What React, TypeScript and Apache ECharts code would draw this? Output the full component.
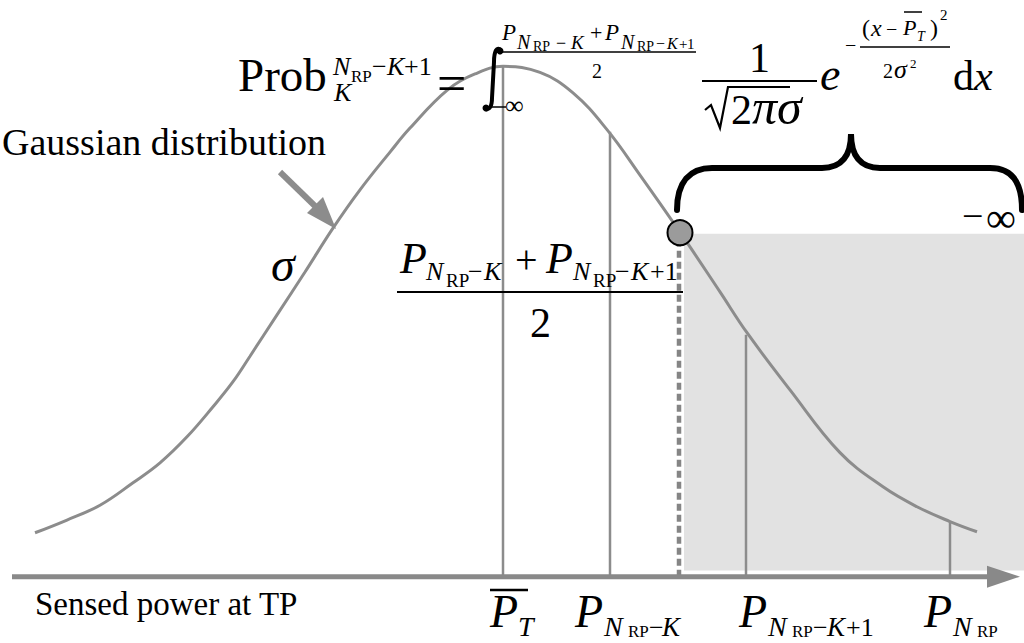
import React, { useEffect, useRef } from 'react';
import * as echarts from 'echarts';

// Gaussian curve: sensed power (P_T = 0), density (peak = 1)
const powerX = [-4.68, -4.36, -4.03, -3.70, -3.43, -3.16, -2.90, -2.70, -2.53, -2.26, -1.98, -1.70, -1.43, -1.13, -0.93, -0.56, -0.28, 0, 0.37, 0.70, 1.04, 1.37, 1.77, 2.17, 2.44, 2.87, 3.37, 3.80, 4.14, 4.47, 4.74];
const density = [0.086, 0.111, 0.140, 0.184, 0.223, 0.274, 0.333, 0.382, 0.432, 0.513, 0.597, 0.683, 0.758, 0.832, 0.879, 0.953, 0.985, 1.0, 0.988, 0.948, 0.876, 0.787, 0.675, 0.558, 0.478, 0.366, 0.243, 0.176, 0.137, 0.108, 0.088];

// Vertical markers: P_T, P_{N_RP-K}, P_{N_RP-K+1}, P_{N_RP}
const markerX = [0, 1.07, 2.43, 4.47];
const markerTop = [1.0, 0.872, 0.474, 0.108];

// Threshold (P_{N_RP-K}+P_{N_RP-K+1})/2
const thresholdX = [1.76];
const thresholdTop = [0.65];
const thresholdPoint = [1.77, 0.674];

// Shaded tail region
const shadeX = [1.81, 5.21];
const shadeY = [0.012, 0.672];

// Sensed-power axis (arrow end)
const axisX = [-4.91, 5.005];

const xRange = [-4.91, 5.21];
const yRange = [-0.13, 1.13];

const GRAY = '#8c8c8c';

echarts.graphic.registerShape(
  'integralSign',
  echarts.graphic.extendPath('M 501 50 C 497 46 494 51 494 62 L 492 98 C 492 107 489 110 486 109', {})
);
echarts.graphic.registerShape(
  'curlyBrace',
  echarts.graphic.extendPath(
    'M 677 210 C 677 182 690 168 712 168 L 822 168 C 842 168 851 155 851 134 C 851 155 860 168 880 168 L 990 168 C 1012 168 1022 182 1022 210',
    {}
  )
);

// text placed by its baseline (bl)
function t(text: string, x: number, bl: number, size: number, italic = false) {
  return {
    type: 'text',
    x,
    y: bl - 0.84 * size,
    z: 100,
    style: {
      text,
      font: `${italic ? 'italic ' : ''}${size}px 'Liberation Serif'`,
      fill: '#000',
    },
  };
}

function ln(x1: number, y1: number, x2: number, y2: number, w: number, color = '#000') {
  return { type: 'line', z: 100, shape: { x1, y1, x2, y2 }, style: { stroke: color, lineWidth: w } };
}

function buildGraphics() {
  const g: any[] = [];
  // Labels
  g.push(t('Gaussian distribution', 2, 155, 38));
  g.push(t('Sensed power at TP', 35, 615, 33));
  g.push(t('σ', 271, 281, 48, true));
  // arrow to curve
  g.push(ln(280, 172, 316, 207, 6, GRAY));
  g.push({ type: 'polygon', z: 100, shape: { points: [[336, 229], [307, 213], [323, 197]] }, style: { fill: GRAY } });

  // Prob_K^{N_RP - K + 1} =
  g.push(t('Prob', 238, 91, 47));
  g.push(t('N', 333, 75, 26, true));
  g.push(t('RP', 351, 82, 17));
  g.push(t('−', 372, 75, 26));
  g.push(t('K', 387, 75, 26, true));
  g.push(t('+1', 404, 75, 26));
  g.push(t('K', 334, 101, 26, true));
  g.push(t('=', 437, 101, 52));

  // Integral sign
  g.push({ type: 'integralSign', z: 100, style: { stroke: '#000', lineWidth: 4, fill: 'none' } });
  g.push({ type: 'circle', z: 100, shape: { cx: 500, cy: 51, r: 3.5 }, style: { fill: '#000' } });
  g.push({ type: 'circle', z: 100, shape: { cx: 486, cy: 108, r: 3.5 }, style: { fill: '#000' } });
  g.push(ln(486, 107, 506, 107, 1.5));
  g.push(t('∞', 505, 114, 26));

  // Upper limit fraction
  g.push(t('P', 502, 40, 23, true));
  g.push(t('N', 517, 49, 20, true));
  g.push(t('RP', 533, 51, 14));
  g.push(t('−', 556, 49, 18));
  g.push(t('K', 571, 49, 19, true));
  g.push(t('+', 590, 40, 22));
  g.push(t('P', 605, 40, 23, true));
  g.push(t('N', 621, 49, 20, true));
  g.push(t('RP', 637, 51, 14));
  g.push(t('−', 656, 49, 16));
  g.push(t('K', 667, 49, 16, true));
  g.push(t('+', 679, 49, 15));
  g.push(t('1', 687, 49, 15));
  g.push(ln(497, 52, 696, 52, 1.5));
  g.push(t('2', 592, 78, 20));

  // 1 / sqrt(2π) σ
  g.push(t('1', 749, 72, 42));
  g.push(ln(702, 81, 817, 81, 2));
  g.push({
    type: 'polyline', z: 100,
    shape: { points: [[705, 110], [711, 105], [720, 128], [728, 87], [790, 87]] },
    style: { stroke: '#000', lineWidth: 2.2, fill: null },
  });
  g.push(t('2', 731, 124, 42));
  g.push(t('πσ', 752, 124, 50, true));

  // e^{-(x - P_T)^2 / 2σ^2} dx
  g.push(t('e', 820, 90, 46, true));
  g.push(t('−', 845, 52, 20));
  g.push(ln(860, 47, 950, 47, 1.5));
  g.push(t('(', 862, 36, 24));
  g.push(t('x', 871, 36, 24, true));
  g.push(t('−', 886, 36, 20));
  g.push(t('P', 903, 35, 22, true));
  g.push(ln(904, 12, 922, 12, 1.5));
  g.push(t('T', 917, 41, 14, true));
  g.push(t(')', 930, 36, 24));
  g.push(t('2', 940, 20, 15));
  g.push(t('2', 883, 78, 20));
  g.push(t('σ', 894, 78, 26, true));
  g.push(t('2', 910, 68, 13));
  g.push(t('d', 953, 90, 42));
  g.push(t('x', 974, 90, 42, true));

  // Brace and −∞
  g.push({ type: 'curlyBrace', z: 100, style: { stroke: '#000', lineWidth: 6, fill: 'none', lineCap: 'round' } });
  g.push(t('−', 962, 229, 38));
  g.push(t('∞', 986, 232, 42));

  // Middle fraction (P_{N_RP-K} + P_{N_RP-K+1}) / 2
  g.push(t('P', 400, 273, 44, true));
  g.push(t('N', 426, 280, 26, true));
  g.push(t('RP', 446, 287, 19));
  g.push(t('−', 468, 280, 26));
  g.push(t('K', 484, 280, 26, true));
  g.push(t('+', 515, 273, 40));
  g.push(t('P', 546, 273, 44, true));
  g.push(t('N', 573, 280, 26, true));
  g.push(t('RP', 593, 287, 19));
  g.push(t('−', 615, 280, 26));
  g.push(t('K', 631, 280, 26, true));
  g.push(t('+1', 650, 280, 26));
  g.push(ln(397, 292, 683, 292, 2));
  g.push(t('2', 530, 337, 42));

  // Bottom axis labels
  g.push(ln(490, 590, 528, 590, 2.5));
  g.push(t('P', 490, 627, 46, true));
  g.push(t('T', 518, 636, 28, true));

  g.push(t('P', 575, 627, 46, true));
  g.push(t('N', 604, 636, 28, true));
  g.push(t('RP', 628, 637, 17));
  g.push(t('−', 649, 636, 26));
  g.push(t('K', 662, 636, 27, true));

  g.push(t('P', 739, 627, 46, true));
  g.push(t('N', 768, 636, 28, true));
  g.push(t('RP', 792, 637, 17));
  g.push(t('−', 813, 636, 26));
  g.push(t('K', 827, 636, 27, true));
  g.push(t('+1', 846, 636, 26));

  g.push(t('P', 924, 627, 46, true));
  g.push(t('N', 953, 636, 28, true));
  g.push(t('RP', 977, 637, 17));
  return g;
}

function buildOption() {
  const series: any[] = [];
  series.push({
    type: 'line',
    name: 'tail',
    data: [[shadeX[0], shadeY[1]], [shadeX[1], shadeY[1]]],
    symbol: 'none',
    lineStyle: { width: 0, opacity: 0 },
    areaStyle: { color: '#e2e2e2', opacity: 1, origin: shadeY[0] },
    silent: true,
    z: 1,
  });
  markerX.forEach((x, i) => {
    series.push({
      type: 'line',
      data: [[x, 0], [x, markerTop[i]]],
      symbol: 'none',
      lineStyle: { color: GRAY, width: 2.5 },
      silent: true,
      z: 3,
    });
  });
  thresholdX.forEach((x, i) => {
    series.push({
      type: 'line',
      data: [[x, 0], [x, thresholdTop[i]]],
      symbol: 'none',
      lineStyle: { color: '#858585', width: 4.5, type: [7, 4] },
      silent: true,
      z: 3,
    });
  });
  series.push({
    type: 'line',
    name: 'Gaussian distribution',
    data: powerX.map((x, i) => [x, density[i]]),
    smooth: 0.4,
    symbol: 'none',
    lineStyle: { color: GRAY, width: 3 },
    silent: true,
    z: 4,
  });
  // Sensed power axis with arrow head
  series.push({
    type: 'line',
    name: 'Sensed power at TP',
    data: [
      { value: [axisX[0], 0], symbol: 'none' },
      { value: [axisX[1], 0], symbol: 'triangle', symbolSize: [22, 33], symbolRotate: -90 },
    ],
    showSymbol: true,
    lineStyle: { color: '#898989', width: 5 },
    itemStyle: { color: '#898989', borderWidth: 0 },
    silent: true,
    z: 6,
  });
  series.push({
    type: 'scatter',
    data: [thresholdPoint],
    symbolSize: 25,
    itemStyle: { color: '#9b9b9b', borderColor: '#000', borderWidth: 2, opacity: 1 },
    silent: true,
    z: 8,
  });

  return {
    animation: false,
    backgroundColor: '#fff',
    grid: { left: 12, right: 0, top: 0, bottom: 0 },
    xAxis: {
      type: 'value',
      min: xRange[0],
      max: xRange[1],
      axisLine: { show: false },
      axisTick: { show: false },
      axisLabel: { show: false },
      splitLine: { show: false },
    },
    yAxis: {
      type: 'value',
      min: yRange[0],
      max: yRange[1],
      show: false,
      splitLine: { show: false },
    },
    series,
    graphic: buildGraphics(),
  };
}

export default function App() {
  const ref = useRef<HTMLDivElement>(null);
  useEffect(() => {
    const chart = echarts.init(ref.current!, null, { renderer: 'svg' });
    chart.setOption(buildOption() as any);
    return () => chart.dispose();
  }, []);
  return (
    <div
      ref={ref}
      style={{ position: 'absolute', left: 0, top: 0, width: 1024, height: 643, background: '#fff' }}
    />
  );
}
